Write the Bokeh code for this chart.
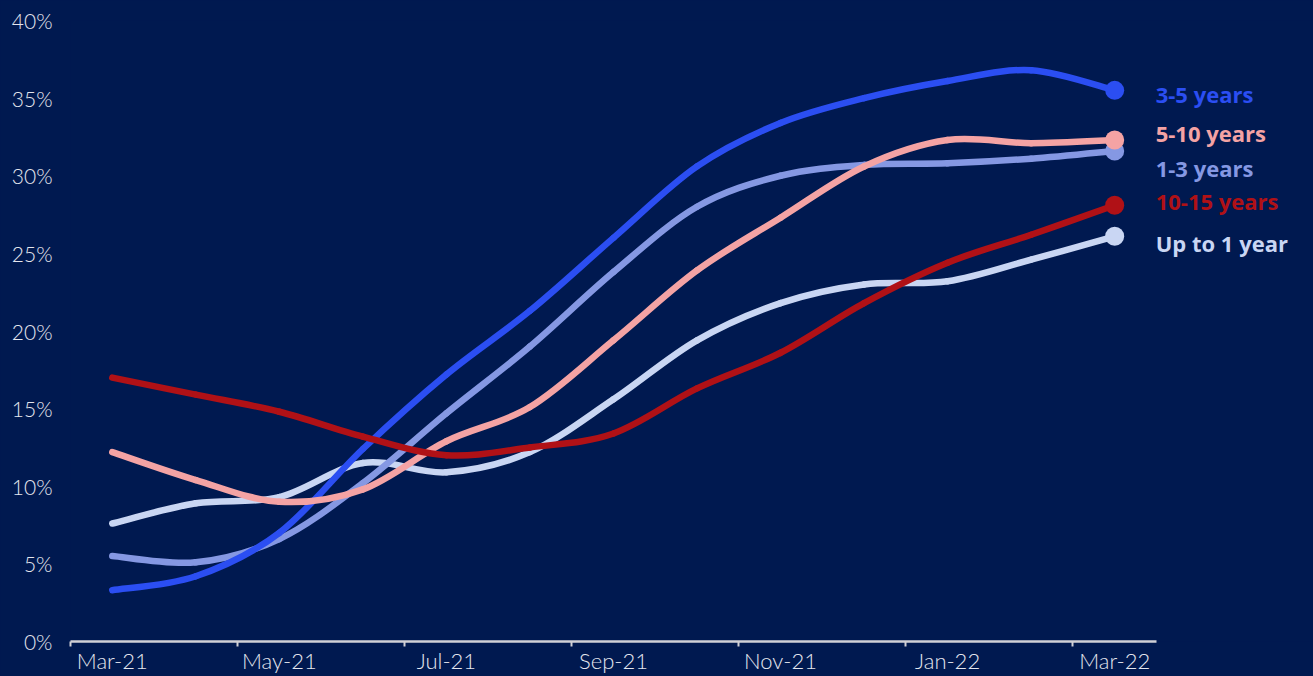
from bokeh.plotting import figure
from bokeh.models import Range1d, FixedTicker, PrintfTickFormatter, ColumnDataSource
from bokeh.core.properties import value
from bokeh.embed import file_html
from bokeh.resources import INLINE

months = ["Mar-21", "Apr-21", "May-21", "Jun-21", "Jul-21", "Aug-21", "Sep-21",
          "Oct-21", "Nov-21", "Dec-21", "Jan-22", "Feb-22", "Mar-22"]

up_to_1 = [7.6, 8.9, 9.3, 11.5, 10.9, 12.2, 15.6, 19.4, 21.8, 23.0, 23.2, 24.6, 26.1]
y1_3 = [5.5, 5.1, 6.6, 10.2, 14.7, 19.0, 23.8, 28.0, 30.0, 30.7, 30.8, 31.1, 31.6]
y3_5 = [3.3, 4.2, 7.0, 12.4, 17.2, 21.3, 26.0, 30.6, 33.4, 35.0, 36.1, 36.8, 35.5]
y5_10 = [12.2, 10.4, 9.0, 9.8, 12.9, 15.1, 19.4, 23.9, 27.3, 30.6, 32.3, 32.1, 32.3]
y10_15 = [17.0, 15.9, 14.8, 13.2, 12.0, 12.5, 13.4, 16.3, 18.6, 21.8, 24.4, 26.2, 28.1]

series_names = ["Up to 1 year", "1-3 years", "3-5 years", "5-10 years", "10-15 years"]
series_values = [up_to_1, y1_3, y3_5, y5_10, y10_15]
series_colors = ["#c9d6f3", "#8598e3", "#2b4ef2", "#f4a3a4", "#b01116"]
label_dy = [7, 17, 4, -7, -4]  # pixel nudges for end labels

BG = "#001950"

p = figure(width=1313, height=676, output_backend="svg", toolbar_location=None,
           x_range=Range1d(-0.5, 14.38), y_range=Range1d(0, 40),
           min_border_left=70, min_border_right=0, min_border_top=20, min_border_bottom=34)
p.background_fill_color = BG
p.border_fill_color = BG
p.outline_line_color = None
p.grid.visible = False

xs = list(range(len(months)))


def bez_segments(xv, yv):
    n = len(xv)
    out = dict(x0=[], y0=[], x1=[], y1=[], cx0=[], cy0=[], cx1=[], cy1=[])
    for i in range(n - 1):
        xm1, ym1 = (xv[i - 1], yv[i - 1]) if i > 0 else (xv[i], yv[i])
        xp2, yp2 = (xv[i + 2], yv[i + 2]) if i + 2 < n else (xv[i + 1], yv[i + 1])
        out["x0"].append(xv[i]); out["y0"].append(yv[i])
        out["x1"].append(xv[i + 1]); out["y1"].append(yv[i + 1])
        out["cx0"].append(xv[i] + (xv[i + 1] - xm1) / 6.0)
        out["cy0"].append(yv[i] + (yv[i + 1] - ym1) / 6.0)
        out["cx1"].append(xv[i + 1] - (xp2 - xv[i]) / 6.0)
        out["cy1"].append(yv[i + 1] - (yp2 - yv[i]) / 6.0)
    return out


for name, vals, col, dy in zip(series_names, series_values, series_colors, label_dy):
    src = ColumnDataSource(bez_segments(xs, vals))
    p.bezier(x0="x0", y0="y0", x1="x1", y1="y1", cx0="cx0", cy0="cy0", cx1="cx1", cy1="cy1",
             source=src, line_color=col, line_width=6.5, line_cap="round")
    p.scatter([xs[-1]], [vals[-1]], size=19, fill_color=col, line_color=None)
    p.text([xs[-1]], [vals[-1]], text=[name], text_color=col, text_font=value("Open Sans"),
           text_font_style="bold", text_font_size="22px", text_baseline="middle",
           text_align="left", x_offset=41, y_offset=dy)

# x axis
xa = p.xaxis[0]
xa.ticker = FixedTicker(ticks=[i for i in xs if i % 2 == 0],
                        minor_ticks=[i - 0.5 for i in xs if i % 2 == 0])
xa.major_label_overrides = {i: months[i] for i in xs if i % 2 == 0}
xa.bounds = (-0.5, 12.5)
xa.axis_line_color = "#d0d0d6"
xa.axis_line_width = 2.5
xa.major_tick_line_color = None
xa.major_tick_out = 0
xa.major_tick_in = 0
xa.minor_tick_line_color = "#d0d0d6"
xa.minor_tick_line_width = 2
xa.minor_tick_out = 5
xa.minor_tick_in = 0
xa.major_label_standoff = 0
xa.major_label_text_color = "#e4e6ee"
xa.major_label_text_font = "Lato Light, Lato"
xa.major_label_text_font_size = "22px"

# y axis
ya = p.yaxis[0]
ya.ticker = FixedTicker(ticks=list(range(0, 41, 5)))
ya.formatter = PrintfTickFormatter(format="%d%%")
ya.axis_line_color = None
ya.major_tick_line_color = None
ya.minor_tick_line_color = None
ya.major_tick_out = 0
ya.major_tick_in = 0
ya.major_label_standoff = 18
ya.major_label_text_color = "#e4e6ee"
ya.major_label_text_font = "Lato Light, Lato"
ya.major_label_text_font_size = "21px"

html = file_html(p, INLINE)
html = html.replace("</head>", "<style>html, body { background: %s !important; margin: 0; }</style></head>" % BG, 1)
open("out.html", "w").write(html)
